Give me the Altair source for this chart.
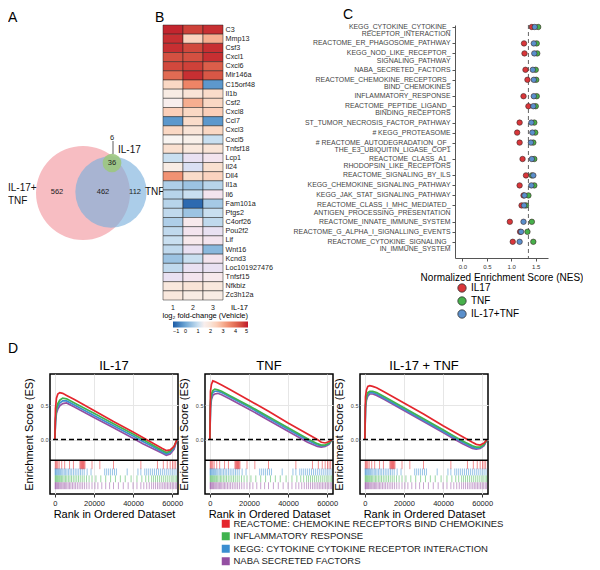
import json
import altair as alt
import pandas as pd

FONT = "Liberation Sans, Arial, sans-serif"

# ---------------- Panel A : Venn ----------------
venn_region_counts = [562, 462, 112, 36, 6]
venn_set_names = ["IL-17+TNF", "TNF", "IL-17"]
venn_set_regions = [[0, 1, 3], [1, 2, 3], [3, 4]]

# layout of the diagram (pixels inside panel A)
venn_circle_xy = [(75, 168), (103, 167), (104, 138)]
venn_count_xy = [(49, 167), (95, 167), (127, 167), (104, 138), (104, 113)]
venn_label_text = ["IL-17+", "TNF", "TNF", "IL-17"]
venn_label_xy = [(0, 163), (0, 176), (137, 167), (110, 125)]
venn_leader = (105, 116, 129)
venn_fill = ["#f4a4aa", "#78aedb", "#9cc77f"]
venn_opacity = [0.72, 0.62, 0.9]
VENN_MAX_DIAM = 94

# ---------------- Panel B : heatmap ----------------
genes = ["C3", "Mmp13", "Csf3", "Cxcl1", "Cxcl6", "Mir146a", "C15orf48", "Il1b", "Csf2", "Cxcl8",
         "Ccl7", "Cxcl3", "Cxcl5", "Tnfsf18", "Lcp1", "Il24", "Dll4", "Il1a", "Il6", "Fam101a",
         "Ptgs2", "C4orf26", "Pou2f2", "Lif", "Wnt16", "Kcnd3", "Loc101927476", "Tnfsf15", "Nfkbiz", "Zc3h12a"]
lfc_rep1 = [4.9, 4.8, 4.8, 4.4, 4.5, 4.0, 2.3, 1.8, 1.5, 2.5, -0.2, 2.3, 1.6, 2.1, 1.0, 1.8, 3.4, 0.7, 0.8, 0.8,
            0.9, 0.7, 0.9, 1.0, 0.9, 0.5, 0.9, 1.2, 1.9, 1.9]
lfc_rep2 = [4.6, 2.4, 4.5, 4.4, 4.6, 4.8, 3.6, 2.0, 3.0, 2.3, 2.2, 2.0, 1.7, 1.9, 1.2, 1.1, 2.2, 0.5, 1.0, -0.8,
            0.5, 1.4, 1.3, 1.4, 1.2, 1.0, 1.2, 1.3, 2.0, 1.8]
lfc_rep3 = [4.8, 3.0, 4.8, 4.8, 4.2, 4.3, -0.2, 2.2, 2.3, 2.5, -0.2, 2.3, 1.0, 2.0, 1.3, 2.1, 2.4, 0.8, 1.3, 0.6,
            1.0, 0.9, 1.2, 1.3, 0.3, 1.3, 1.2, 1.4, 1.9, 1.8]
replicates = [1, 2, 3]
heat_ticks = [-1, 0, 1, 2, 3, 4, 5]

# ---------------- Panel C : NES dot plot ----------------
pathways = [
    "KEGG_CYTOKINE_CYTOKINE_|RECEPTOR_INTERACTION",
    "REACTOME_ER_PHAGOSOME_PATHWAY",
    "KEGG_NOD_LIKE_RECEPTOR_|SIGNALING_PATHWAY",
    "NABA_SECRETED_FACTORS",
    "REACTOME_CHEMOKINE_RECEPTORS_|BIND_CHEMOKINES",
    "INFLAMMATORY_RESPONSE",
    "REACTOME_PEPTIDE_LIGAND_|BINDING_RECEPTORS",
    "ST_TUMOR_NECROSIS_FACTOR_PATHWAY",
    "# KEGG_PROTEASOME",
    "# REACTOME_AUTODEGRADATION_OF_|THE_E3_UBIQUITIN_LIGASE_COP1",
    "REACTOME_CLASS_A1_|RHODOPSIN_LIKE_RECEPTORS",
    "REACTOME_SIGNALING_BY_ILS",
    "KEGG_CHEMOKINE_SIGNALING_PATHWAY",
    "KEGG_JAK_STAT_SIGNALING_PATHWAY",
    "REACTOME_CLASS_I_MHC_MEDIATED_|ANTIGEN_PROCESSING_PRESENTATION",
    "REACTOME_INNATE_IMMUNE_SYSTEM",
    "REACTOME_G_ALPHA_I_SIGNALLING_EVENTS",
    "REACTOME_CYTOKINE_SIGNALING_|IN_IMMUNE_SYSTEM",
]
nes_groups = ["IL17", "TNF", "IL-17+TNF"]
nes_il17 = [1.42, 1.26, 1.27, 1.29, 1.33, 1.25, 1.35, 1.17, 1.12, 1.17, 1.23, 1.30, 1.17, 1.25, 1.21, 0.97, 1.18, 1.03]
nes_tnf = [1.55, 1.52, 1.53, 1.50, 1.51, 1.52, 1.50, 1.47, 1.49, 1.45, 1.47, 1.42, 1.47, 1.35, 1.30, 1.42, 1.33, 1.45]
nes_combo = [1.48, 1.46, 1.47, 1.44, 1.46, 1.46, 1.45, 1.41, 1.43, 1.40, 1.42, 1.45, 1.41, 1.27, 1.26, 1.25, 1.20, 1.17]
nes_cutoff = [1.35]
nes_ticks = [0, 0.5, 1, 1.5]
nes_colors = ["#d9363a", "#47b04b", "#5a8fcb"]

# ---------------- Panel D : GSEA running scores ----------------
gene_sets = ["REACTOME: CHEMOKINE RECEPTORS BIND CHEMOKINES", "INFLAMMATORY RESPONSE",
             "KEGG: CYTOKINE CYTOKINE RECEPTOR INTERACTION", "NABA SECRETED  FACTORS"]
set_colors = ["#e4262d", "#3fb34f", "#3b8ed0", "#944fa2"]
panels = ["IL-17", "TNF", "IL-17 + TNF"]
curve_ranks = [0, 300, 800, 1500, 2500, 4000, 6000, 10000, 20000, 30000, 40000, 45000, 50000, 55000, 57000, 59000, 61000, 62500]
es_il17 = {
    gene_sets[0]: [0, 0.45, 0.60, 0.66, 0.68, 0.67, 0.64, 0.58, 0.42, 0.26, 0.11, 0.03, -0.05, -0.13, -0.16, -0.15, -0.10, 0.0],
    gene_sets[1]: [0, 0.30, 0.45, 0.52, 0.57, 0.60, 0.59, 0.53, 0.38, 0.23, 0.08, 0.00, -0.08, -0.16, -0.19, -0.17, -0.10, 0.0],
    gene_sets[2]: [0, 0.28, 0.42, 0.48, 0.53, 0.56, 0.56, 0.50, 0.35, 0.20, 0.05, -0.03, -0.10, -0.18, -0.21, -0.19, -0.12, 0.0],
    gene_sets[3]: [0, 0.25, 0.38, 0.44, 0.49, 0.52, 0.53, 0.47, 0.32, 0.17, 0.02, -0.06, -0.13, -0.20, -0.23, -0.21, -0.14, 0.0],
}
es_tnf = {
    gene_sets[0]: [0, 0.70, 0.80, 0.85, 0.84, 0.82, 0.79, 0.73, 0.57, 0.41, 0.24, 0.16, 0.08, 0.00, -0.04, -0.05, -0.03, 0.0],
    gene_sets[1]: [0, 0.55, 0.66, 0.71, 0.73, 0.72, 0.70, 0.64, 0.49, 0.33, 0.17, 0.09, 0.01, -0.06, -0.08, -0.08, -0.05, 0.0],
    gene_sets[2]: [0, 0.50, 0.62, 0.68, 0.70, 0.70, 0.68, 0.62, 0.47, 0.31, 0.15, 0.07, -0.01, -0.08, -0.09, -0.09, -0.06, 0.0],
    gene_sets[3]: [0, 0.45, 0.58, 0.64, 0.66, 0.67, 0.65, 0.59, 0.44, 0.28, 0.12, 0.04, -0.04, -0.10, -0.11, -0.10, -0.07, 0.0],
}
es_combo = {
    gene_sets[0]: [0, 0.62, 0.72, 0.77, 0.78, 0.77, 0.75, 0.69, 0.53, 0.37, 0.20, 0.12, 0.04, -0.04, -0.07, -0.08, -0.05, 0.0],
    gene_sets[1]: [0, 0.50, 0.62, 0.68, 0.70, 0.70, 0.68, 0.62, 0.46, 0.30, 0.14, 0.06, -0.02, -0.09, -0.11, -0.11, -0.07, 0.0],
    gene_sets[2]: [0, 0.48, 0.60, 0.66, 0.68, 0.68, 0.66, 0.60, 0.44, 0.28, 0.12, 0.04, -0.04, -0.11, -0.13, -0.12, -0.08, 0.0],
    gene_sets[3]: [0, 0.45, 0.57, 0.63, 0.66, 0.66, 0.64, 0.58, 0.42, 0.26, 0.10, 0.02, -0.06, -0.13, -0.14, -0.13, -0.09, 0.0],
}
panel_curves = {"IL-17": es_il17, "TNF": es_tnf, "IL-17 + TNF": es_combo}

hits_red = [200, 600, 1000, 1500, 2200, 3500, 5000, 7500, 9500, 12800, 13200, 13500, 13800, 14100, 14400, 14700,
            15000, 15400, 19000, 23000, 30000, 44000, 52500, 55500, 57500, 59000, 60200, 61000, 61800]
hits_blue = [100, 400, 700, 1100, 1500, 1900, 2400, 2900, 3500, 4100, 4800, 5500, 6200, 7000, 7800, 8600, 9500,
             10400, 11300, 12200, 13100, 14000, 15000, 16500, 18500, 25500, 26500, 27500, 28500, 29500, 30500,
             31500, 37000, 42500, 44000, 46000, 47000, 48000, 49000, 50000, 51000, 52000, 53000, 54000, 55000,
             56000, 57000, 58000, 59000, 60000, 61000, 62000]
hits_green = [150, 500, 900, 1300, 1800, 2300, 2800, 3400, 4000, 4700, 5400, 6100, 6900, 7700, 8500, 9400, 10300,
              11200, 12100, 13000, 14000, 15000, 16200, 17500, 19000, 21000, 23500, 26000, 28500, 31000, 33500,
              36000, 39000, 42000, 44500, 46500, 48000, 49500, 50500, 51500, 52500, 53500, 54500, 55500, 56500,
              57500, 58500, 59500, 60500, 61500, 62300]
hits_purple = [100, 350, 650, 1000, 1400, 1800, 2200, 2700, 3200, 3700, 4300, 4900, 5500, 6100, 6800, 7500, 8200,
               9000, 9800, 10600, 11500, 12400, 13300, 14200, 15200, 16300, 17500, 19000, 20500, 22000, 24000,
               26000, 28000, 30000, 32500, 35000, 37500, 40000, 42000, 44000, 45500, 47000, 48300, 49500, 50500,
               51500, 52500, 53400, 54300, 55200, 56000, 56800, 57600, 58400, 59200, 60000, 60800, 61600, 62300]
rank_ticks = [0, 20000, 40000, 60000]
es_ticks = [0, 0.5]

# rug band layout in ES units (below the running-score area)
ES_TOP, ES_SPLIT, ES_BOTTOM = 0.95, -0.30, -0.79
rug_rows = [(gene_sets[0], hits_red, -0.30, -0.43), (gene_sets[2], hits_blue, -0.42, -0.52),
            (gene_sets[1], hits_green, -0.52, -0.62), (gene_sets[3], hits_purple, -0.62, -0.72)]

# ====================== build tables ======================
set_totals = [sum(venn_region_counts[i] for i in regs) for regs in venn_set_regions]
circ_df = pd.DataFrame({"set": venn_set_names, "total": set_totals,
                        "cx": [p[0] for p in venn_circle_xy], "cy": [p[1] for p in venn_circle_xy]})
count_df = pd.DataFrame({"count": venn_region_counts,
                         "x": [p[0] for p in venn_count_xy], "y": [p[1] for p in venn_count_xy]})
lab_df = pd.DataFrame({"text": venn_label_text,
                       "x": [p[0] for p in venn_label_xy], "y": [p[1] for p in venn_label_xy]})
lead_df = pd.DataFrame({"x": [venn_leader[0]], "y": [venn_leader[1]], "y2": [venn_leader[2]]})

heat_rows = []
for rep, vals in zip(replicates, [lfc_rep1, lfc_rep2, lfc_rep3]):
    for g, v in zip(genes, vals):
        heat_rows.append({"gene": g, "rep": rep, "lfc": v})
heat_df = pd.DataFrame(heat_rows)

# row slots of panel C: wrapped (two-line) names take extra room
ROW_STEP, EXTRA_LINE = 10.0, 6.4
row_pos = []
cur = 0.0
for p in pathways:
    row_pos.append(round(cur, 2))
    cur += ROW_STEP + EXTRA_LINE * (len(p.split("|")) - 1)

c_rows = []
for grp, vals in zip(nes_groups, [nes_il17, nes_tnf, nes_combo]):
    for p, yp, v in zip(pathways, row_pos, vals):
        c_rows.append({"pathway": p, "pos": yp, "group": grp, "nes": v})
c_df = pd.DataFrame(c_rows)

curve_rows = []
for pn in panels:
    for s in gene_sets:
        for r, v in zip(curve_ranks, panel_curves[pn][s]):
            curve_rows.append({"panel": pn, "set": s, "rank": r, "es": v})
curve_df = pd.DataFrame(curve_rows)

rug_list = []
for s, hits, y0, y1 in rug_rows:
    for h in hits:
        rug_list.append({"set": s, "rank": h, "y0": y0, "y1": y1})
rug_df = pd.DataFrame(rug_list)

# ====================== layout constants ======================
ROW_GAP = 349    # distance from the top row's origin to the GSEA boxes

# ====================== Panel A ======================
A_W, A_H = 155, 275
ax = alt.Scale(domain=[0, A_W], nice=False, zero=False)
ay = alt.Scale(domain=[0, A_H], nice=False, zero=False, reverse=True)
size_scale = alt.Scale(domain=[0, max(set_totals)], range=[0, VENN_MAX_DIAM ** 2])
a_layers = []
for i, name in enumerate(venn_set_names):
    a_layers.append(
        alt.Chart(circ_df).transform_filter(alt.datum.set == name)
        .mark_circle(color=venn_fill[i], opacity=venn_opacity[i])
        .encode(x=alt.X("cx:Q", scale=ax, axis=None), y=alt.Y("cy:Q", scale=ay, axis=None),
                size=alt.Size("total:Q", scale=size_scale, legend=None))
    )
a_layers.append(alt.Chart(lead_df).mark_rule(color="#333", strokeWidth=0.8).encode(
    x=alt.X("x:Q", scale=ax, axis=None), y=alt.Y("y:Q", scale=ay, axis=None), y2="y2:Q"))
a_layers.append(alt.Chart(count_df).mark_text(fontSize=7.5, font=FONT, color="#222").encode(
    x=alt.X("x:Q", scale=ax, axis=None), y=alt.Y("y:Q", scale=ay, axis=None), text="count:N"))
a_layers.append(alt.Chart(lab_df).mark_text(fontSize=10, font=FONT, color="#111", align="left").encode(
    x=alt.X("x:Q", scale=ax, axis=None), y=alt.Y("y:Q", scale=ay, axis=None), text="text:N"))
A = alt.layer(*a_layers).properties(
    width=A_W, height=A_H,
    title=alt.TitleParams("A", anchor="start", frame="group", fontSize=14, fontWeight="normal", font=FONT,
                          offset=0))

# ====================== Panel B ======================
B_W, B_H = 60, 275
heat_scale = alt.Scale(domain=[-1, 0, 1, 1.6, 2.5, 3.6, 5],
                       range=["#1c5ba6", "#6ea7d5", "#c9dff0", "#f8f4f1", "#fbcfb9", "#ee8466", "#c0182b"])
B = alt.Chart(heat_df).mark_rect(stroke="#222", strokeWidth=0.5).encode(
    x=alt.X("rep:O", scale=alt.Scale(paddingInner=0, paddingOuter=0),
            axis=alt.Axis(title=None, labelAngle=0, ticks=False, domain=False, labelFontSize=7,
                          labelPadding=3, labelColor="#222", labelFont=FONT)),
    y=alt.Y("gene:N", sort=genes, scale=alt.Scale(paddingInner=0, paddingOuter=0),
            axis=alt.Axis(orient="right", title=None, ticks=False, domain=False, labelFontSize=7.2,
                          labelPadding=2, labelColor="#222", labelFont=FONT)),
    fill=alt.Fill("lfc:Q", scale=heat_scale,
                  legend=alt.Legend(orient="none", legendX=0, legendY=B_H + 4, direction="horizontal",
                                    gradientLength=75, gradientThickness=6, values=heat_ticks,
                                    title=["IL-17", "log\u2082 fold-change (Vehicle)"], titleFontSize=7.5,
                                    titleFontWeight="normal", titleAlign="right", titleAnchor="end",
                                    titleLineHeight=8, titleFont=FONT, labelFont=FONT, labelFontSize=5.5,
                                    titlePadding=2, labelOffset=1)),
).properties(width=B_W, height=B_H,
             title=alt.TitleParams("B", anchor="start", frame="group", fontSize=14, fontWeight="normal",
                                   font=FONT, offset=0, dx=-8))

# ====================== Panel C ======================
C_W, C_H = 93, 233
cx = alt.Scale(domain=[-0.15, 1.75], nice=False, zero=False)
cy = alt.Scale(domain=[-2, C_H - 2], nice=False, zero=False, reverse=True)
label_expr = "split(" + json.dumps(pathways) + "[indexof(" + json.dumps(row_pos) + ", datum.value)], '|')"
c_xaxis = alt.Axis(values=nes_ticks, format=".1f", labelFontSize=6, labelColor="#333", tickSize=3,
                   tickColor="#555", domainColor="#555", title="Normalized Enrichment Score (NES)",
                   titleFontSize=10, titleFontWeight="normal", titlePadding=3, titleFont=FONT,
                   labelFont=FONT, grid=False, labelOverlap=False, labelFlush=False)
c_yaxis = alt.Axis(values=row_pos, title=None, labelExpr=label_expr, labelFontSize=6.9,
                   labelLineHeight=7.4, labelBaseline="top", labelOffset=-3.6, labelOverlap=False,
                   labelFlush=False, labelColor="#444", labelFont=FONT, tickSize=3, tickColor="#555",
                   domainColor="#555", labelPadding=2, grid=False, labelLimit=300)
c_points = alt.Chart(c_df).mark_circle(size=30, stroke="#3a2626", strokeWidth=0.6, opacity=1).encode(
    x=alt.X("nes:Q", scale=cx, axis=c_xaxis),
    y=alt.Y("pos:Q", scale=cy, axis=c_yaxis),
    fill=alt.Fill("group:N", scale=alt.Scale(domain=nes_groups, range=nes_colors),
                  legend=alt.Legend(orient="none", legendX=2, legendY=C_H + 25, title=None,
                                    symbolType="circle", symbolSize=70, symbolStrokeColor="#333",
                                    symbolStrokeWidth=0.8, labelFontSize=10, labelFont=FONT,
                                    rowPadding=1)),
)
c_rule = alt.Chart(pd.DataFrame({"nes": nes_cutoff})).mark_rule(
    strokeDash=[4, 3], color="#666", strokeWidth=1).encode(x=alt.X("nes:Q", scale=cx, axis=c_xaxis))
C = alt.layer(c_rule, c_points).properties(
    width=C_W, height=C_H,
    title=alt.TitleParams("C", anchor="start", frame="group", fontSize=14, fontWeight="normal",
                          font=FONT, offset=0, dx=-112))

# ====================== Panel D ======================
D_W, D_H = 128, 120
dx_scale = alt.Scale(domain=[-2500, 63000], nice=False, zero=False)
dy_scale = alt.Scale(domain=[ES_BOTTOM, ES_TOP], nice=False, zero=False)
x_axis = alt.Axis(values=rank_ticks, format="d", grid=True, gridColor="#e6e6e6", domain=False, tickSize=3,
                  tickColor="#333", labelFontSize=7.5, labelColor="#222", labelFont=FONT,
                  title="Rank in Ordered Dataset", titleFontSize=11, titleFontWeight="normal",
                  titleFont=FONT, titlePadding=2, labelPadding=2)
y_axis = alt.Axis(values=es_ticks, format=".1f", grid=True, gridColor="#e6e6e6", domain=False, ticks=False,
                  labelFontSize=5.5, labelColor="#444", labelFont=FONT, labelPadding=2,
                  title="Enrichment Score (ES)", titleFontSize=11, titleFontWeight="normal",
                  titleFont=FONT, titlePadding=6)
set_scale = alt.Scale(domain=gene_sets, range=set_colors)
color_enc = alt.Color("set:N", scale=set_scale, legend=None)
# square swatches of the gene-set legend (a filled-mark channel sharing the same colours)
fill_enc = alt.Fill("set:N", scale=set_scale,
                    legend=alt.Legend(orient="none", legendX=213, legendY=494, title=None,
                                      symbolType="square", symbolSize=64, symbolStrokeWidth=0,
                                      symbolOpacity=1, labelFontSize=9.5, labelFont=FONT,
                                      labelColor="#222", rowPadding=1.5, labelOffset=3, labelLimit=400))


def gsea_panel(pn):
    d = curve_df[curve_df.panel == pn]
    layers = [alt.Chart(rug_df).transform_filter("false").mark_square(opacity=1).encode(
        x=alt.X("rank:Q", scale=dx_scale, axis=x_axis),
        y=alt.Y("y0:Q", scale=dy_scale, axis=y_axis), fill=fill_enc)]
    for s in reversed(gene_sets):
        layers.append(alt.Chart(d).transform_filter(alt.datum.set == s).mark_line(strokeWidth=1.7).encode(
            x=alt.X("rank:Q", scale=dx_scale, axis=x_axis),
            y=alt.Y("es:Q", scale=dy_scale, axis=y_axis), color=color_enc))
    layers.append(alt.Chart(rug_df).mark_rule(strokeWidth=0.8, opacity=0.65).encode(
        x=alt.X("rank:Q", scale=dx_scale, axis=x_axis),
        y=alt.Y("y0:Q", scale=dy_scale, axis=y_axis), y2="y1:Q", color=color_enc))
    layers.append(alt.Chart(pd.DataFrame({"es": [0.0]})).mark_rule(
        strokeDash=[5, 3], color="black", strokeWidth=1.6).encode(y=alt.Y("es:Q", scale=dy_scale)))
    layers.append(alt.Chart(pd.DataFrame({"es": [ES_SPLIT]})).mark_rule(
        color="black", strokeWidth=1.5).encode(y=alt.Y("es:Q", scale=dy_scale)))
    return alt.layer(*layers).properties(
        width=D_W, height=D_H,
        view=alt.ViewBackground(stroke="black", strokeWidth=1.5),
        title=alt.TitleParams(pn, fontSize=13, fontWeight="normal", font=FONT, offset=1))


spacer = alt.Chart(pd.DataFrame({"v": [0]})).mark_point(opacity=0).encode(
    x=alt.X("v:Q", axis=None), y=alt.Y("v:Q", axis=None)).properties(
    width=15, height=D_H,
    title=alt.TitleParams("D", anchor="start", frame="group", fontSize=14, fontWeight="normal",
                          font=FONT, offset=18))

BC = alt.hconcat(B, C, spacing=232, bounds="flush").resolve_scale(fill="independent").resolve_legend(
    fill="independent")
top = alt.hconcat(A, BC, spacing=0, bounds="flush")
drow = alt.hconcat(spacer, *[gsea_panel(p) for p in panels], spacing=27, bounds="flush")

chart = alt.vconcat(top, drow, spacing=ROW_GAP, bounds="flush").properties(padding=0).configure(
    font=FONT).configure_view(stroke=None)

chart.save("out.html", embed_options={"renderer": "svg", "actions": False})
